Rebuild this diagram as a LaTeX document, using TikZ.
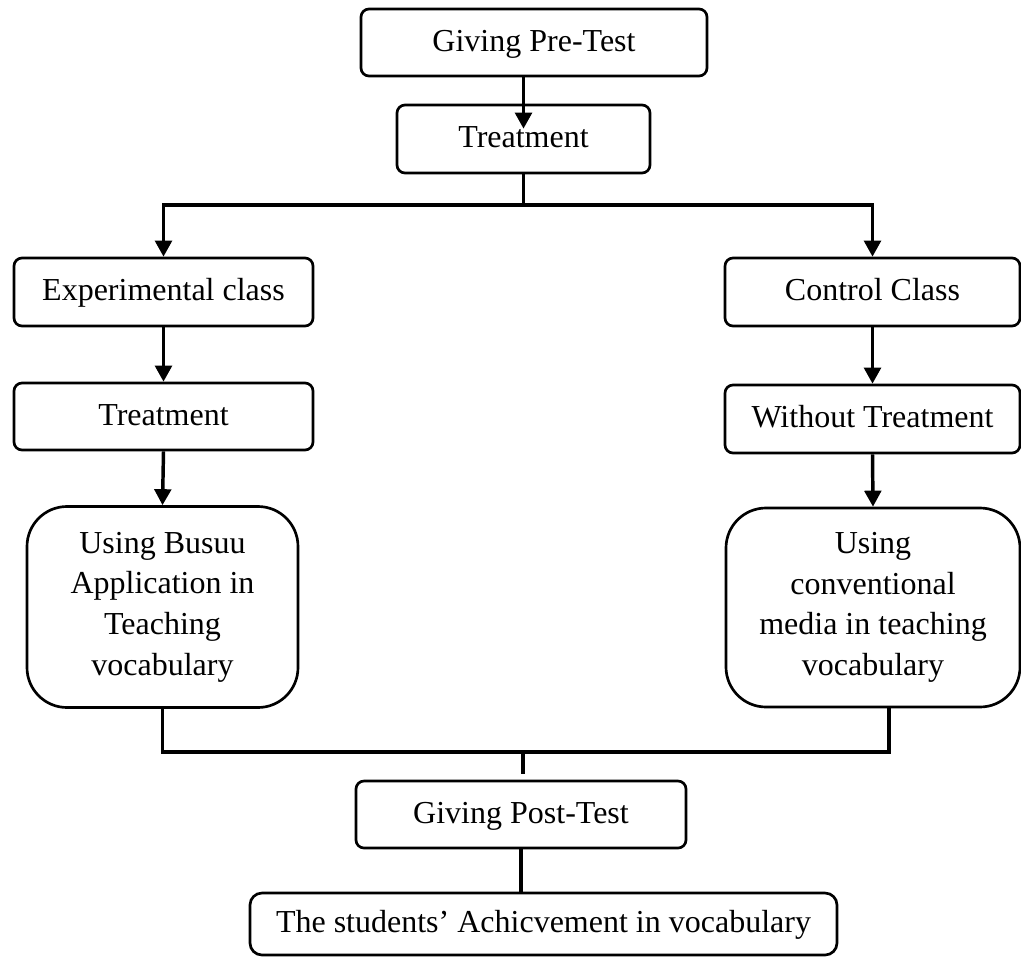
\documentclass[tikz,border=0pt]{standalone}
\usepackage{fontspec}
\setmainfont{Liberation Serif}
\usetikzlibrary{arrows.meta}
\begin{document}
\begin{tikzpicture}[x=0.75pt,y=-0.75pt,
  base/.style={draw, line width=2pt, rounded corners=6pt, inner sep=0pt, align=center,
    font=\fontsize{24pt}{30.5pt}\selectfont},
  box/.style={base, text height=16.5pt, text depth=3.5pt},
  bigbox/.style={base, rounded corners=30pt},
  conn/.style={line width=2.6pt},
  arr/.style={conn, -{Triangle[length=12pt,width=12.5pt]}}]
\useasboundingbox (0,0) rectangle (1021,957);

\node[box, minimum width=259.5pt, minimum height=50.25pt] (pre) at (534,42.5) {Giving Pre-Test};
\node[box, minimum width=189.75pt, minimum height=51pt] (treat) at (523.5,139) {Treatment};
\node[box, minimum width=224.25pt, minimum height=51pt] (exp) at (163.5,292) {Experimental class};
\node[box, minimum width=221.25pt, minimum height=51pt] (ctrl) at (872.5,292) {Control Class};
\node[box, minimum width=224.25pt, minimum height=50.25pt] (treat2) at (163.5,416.5) {Treatment};
\node[box, minimum width=221.25pt, minimum height=51pt] (without) at (872.5,419) {Without Treatment};
\node[bigbox, minimum width=203.25pt, minimum height=150.75pt] (busuu) at (162.5,607) {Using Busuu\\Application in\\Teaching\\vocabulary};
\node[bigbox, minimum width=220.5pt, minimum height=149.25pt] (conv) at (873,607.5) {Using\\conventional\\media in teaching\\vocabulary};
\node[box, minimum width=247.5pt, minimum height=50.25pt] (post) at (521,814.5) {Giving Post-Test};
\node[box, rounded corners=9pt, minimum width=440.25pt, minimum height=46.5pt] (final) at (543.5,924) {The students’ Achicvement in vocabulary};

\coordinate (jtop) at (523.5,205);
\coordinate (cb) at (889,752);
\coordinate (jbm) at (523,752);

\draw[arr] (treat.north |- pre.south) -- ([yshift=-18.75pt]treat.north);
\draw[conn] (treat.south) -- (jtop);
\draw[arr] (jtop) -| (exp.north);
\draw[arr] (jtop) -| (ctrl.north);
\draw[arr] (exp.south) -- (treat2.north);
\draw[arr] (ctrl.south) -- (without.north);
\draw[arr] (treat2.south) -- (busuu.north);
\draw[arr] (without.south) -- (conv.north);
\draw[conn] (busuu.south) |- (cb) -- (conv.south -| cb);
\draw[conn, shorten >=4pt] (jbm) -- (post.north -| jbm);
\draw[conn] (post.south) -- (final.north -| post.south);
\end{tikzpicture}
\end{document}
